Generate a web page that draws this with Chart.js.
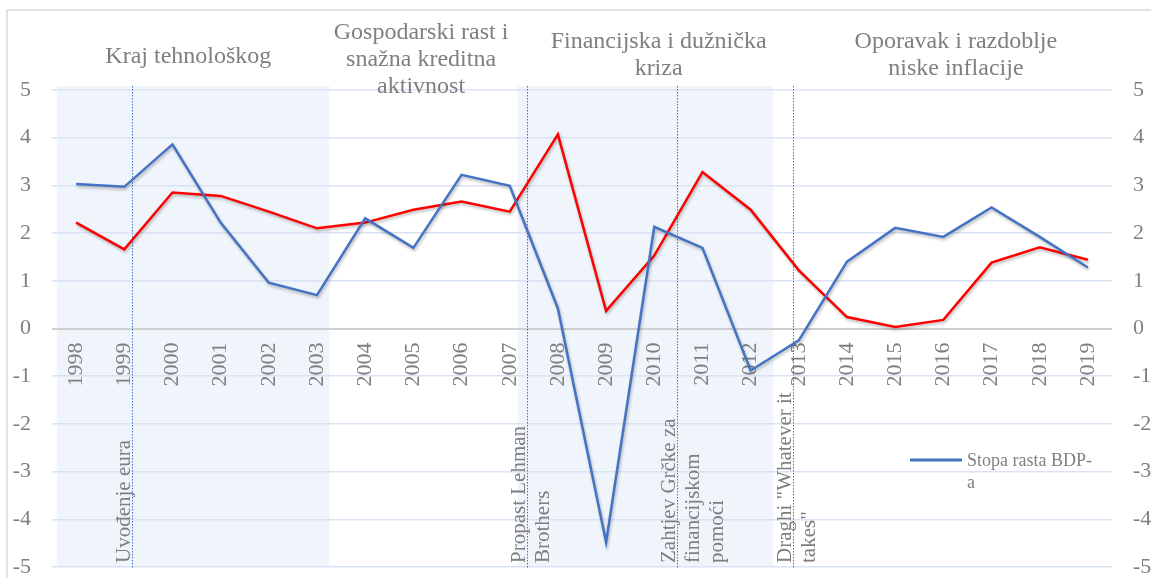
<!DOCTYPE html>
<html>
<head>
<meta charset="utf-8">
<script src="https://cdn.jsdelivr.net/npm/chart.js@4.4.1/dist/chart.umd.min.js"></script>
<style>
  html, body { margin: 0; padding: 0; background: #fff; }
  #wrap { width: 1151px; height: 578px; position: relative; }
</style>
</head>
<body>
<div id="wrap"><canvas id="chart" width="1151" height="578"></canvas></div>
<script>
// data
var years = ['1998', '1999', '2000', '2001', '2002', '2003', '2004', '2005', '2006', '2007', '2008',
  '2009', '2010', '2011', '2012', '2013', '2014', '2015', '2016', '2017', '2018', '2019'];
var gdpGrowth = [3.03, 2.97, 3.86, 2.22, 0.96, 0.70, 2.31, 1.69, 3.22, 2.99, 0.42,
  -4.48, 2.13, 1.69, -0.88, -0.25, 1.40, 2.11, 1.92, 2.54, 1.92, 1.28];
var inflation = [2.22, 1.66, 2.85, 2.78, 2.45, 2.10, 2.22, 2.49, 2.66, 2.45, 4.07,
  0.37, 1.53, 3.28, 2.49, 1.22, 0.24, 0.03, 0.18, 1.38, 1.70, 1.44];
var yTickMin = -5;
var yTickMax = 5;

// shaded periods, in category units (index along the x axis)
var periodBands = [[-0.4, 5.26], [9.17, 14.47]];
var periodTitles = [
  ['Kraj tehnološkog'],
  ['Gospodarski rast i', 'snažna kreditna', 'aktivnost'],
  ['Financijska i dužnička', 'kriza'],
  ['Oporavak i razdoblje', 'niske inflacije']
];
var periodTitleAt = [2.33, 7.16, 12.09, 18.26];

// events, dotted lines
var eventAt = [1.15, 9.35, 12.48, 14.88];
var eventLabels = [
  ['Uvođenje eura'],
  ['Propast Lehman', 'Brothers'],
  ['Zahtjev Grčke za', 'financijskom', 'pomoći'],
  ['Draghi "Whatever it', 'takes"']
];

var legendLines = ['Stopa rasta BDP-', 'a'];

var SERIF = '"Liberation Serif", "Times New Roman", serif';
var GREY = '#7f7f7f';
var BLUE = '#4472C4';
var RED = '#FF0000';

function noPad(s) { s.paddingTop = 0; s.paddingBottom = 0; s.paddingLeft = 0; s.paddingRight = 0; }

var decor = {
  id: 'decor',
  beforeDraw: function (chart) {
    var ctx = chart.ctx, a = chart.chartArea, x = chart.scales.x;
    ctx.save();
    // outer frame
    ctx.strokeStyle = '#d9d9d9';
    ctx.lineWidth = 1.5;
    ctx.beginPath();
    ctx.moveTo(7, chart.height);
    ctx.lineTo(7, 10);
    ctx.lineTo(chart.width, 10);
    ctx.stroke();
    // shaded periods
    ctx.fillStyle = '#f0f4fb';
    periodBands.forEach(function (b) {
      var x0 = x.getPixelForValue(b[0]), x1 = x.getPixelForValue(b[1]);
      ctx.fillRect(x0, a.top - 4, x1 - x0, a.bottom - a.top + 4);
    });
    ctx.restore();
  },
  beforeDatasetsDraw: function (chart) {
    var ctx = chart.ctx, a = chart.chartArea, x = chart.scales.x;
    ctx.save();
    eventAt.forEach(function (v, i) {
      var px = Math.round(x.getPixelForValue(v)) + 0.5;
      ctx.strokeStyle = BLUE;
      ctx.lineWidth = 1;
      ctx.setLineDash([1.5, 1.5]);
      ctx.beginPath();
      ctx.moveTo(px, a.top - 4);
      ctx.lineTo(px, a.bottom + 1);
      ctx.stroke();
      ctx.setLineDash([]);
      // rotated label
      ctx.save();
      ctx.translate(px - 3, a.bottom - 4);
      ctx.rotate(-Math.PI / 2);
      ctx.fillStyle = GREY;
      ctx.font = '21px ' + SERIF;
      ctx.textAlign = 'left';
      ctx.textBaseline = 'alphabetic';
      eventLabels[i].forEach(function (line, j) {
        ctx.fillText(line, 0, j * 24);
      });
      ctx.restore();
    });
    ctx.restore();
  },
  beforeDatasetDraw: function (chart) {
    var ctx = chart.ctx;
    ctx.save();
    ctx.shadowColor = 'rgba(0,0,0,0.28)';
    ctx.shadowBlur = 3;
    ctx.shadowOffsetX = 1;
    ctx.shadowOffsetY = 2;
  },
  afterDatasetDraw: function (chart) {
    chart.ctx.restore();
  },
  afterDraw: function (chart) {
    var ctx = chart.ctx, x = chart.scales.x;
    ctx.save();
    // period titles
    ctx.fillStyle = GREY;
    ctx.font = '24px ' + SERIF;
    ctx.textAlign = 'center';
    ctx.textBaseline = 'middle';
    var firstLineY = [57, 33, 42, 42];
    periodTitles.forEach(function (lines, i) {
      var px = x.getPixelForValue(periodTitleAt[i]);
      lines.forEach(function (line, j) {
        ctx.fillText(line, px, firstLineY[i] + j * 27);
      });
    });
    // legend (only the GDP series is shown)
    var ds = chart.data.datasets[0];
    ctx.strokeStyle = ds.borderColor;
    ctx.lineWidth = 3;
    ctx.beginPath();
    ctx.moveTo(910, 460);
    ctx.lineTo(962, 460);
    ctx.stroke();
    ctx.font = '18px ' + SERIF;
    ctx.textAlign = 'left';
    ctx.textBaseline = 'middle';
    legendLines.forEach(function (line, j) {
      ctx.fillText(line, 967, 461 + j * 22);
    });
    ctx.restore();
  }
};

new Chart(document.getElementById('chart'), {
  type: 'line',
  data: {
    labels: years,
    datasets: [
      { label: 'Stopa rasta BDP-a', data: gdpGrowth, borderColor: BLUE, borderWidth: 2.5,
        pointRadius: 0, tension: 0, fill: false, yAxisID: 'y' },
      { label: 'Stopa inflacije', data: inflation, borderColor: RED, borderWidth: 2.5,
        pointRadius: 0, tension: 0, fill: false, yAxisID: 'y' }
    ]
  },
  options: {
    responsive: false,
    animation: false,
    layout: { padding: { top: 90, bottom: 11, left: 0, right: 0 } },
    plugins: { legend: { display: false }, tooltip: { enabled: false } },
    scales: {
      x: {
        type: 'category',
        offset: true,
        position: { y: 0 },
        afterFit: function (s) { s.height = 0; noPad(s); },
        grid: { display: false, drawTicks: false },
        border: { display: false },
        ticks: {
          autoSkip: false, minRotation: 90, maxRotation: 90, padding: 14,
          color: GREY, font: { family: SERIF, size: 22 }
        }
      },
      y: {
        position: 'left',
        min: yTickMin, max: yTickMax,
        afterFit: function (s) { s.width = 52; noPad(s); },
        grid: {
          drawTicks: false,
          color: function (c) { return c.tick && c.tick.value === 0 ? '#cfcfcf' : '#dae3f3'; },
          lineWidth: function (c) { return c.tick && c.tick.value === 0 ? 2 : 1.5; }
        },
        border: { display: false },
        ticks: { stepSize: 1, padding: 21, color: GREY, font: { family: SERIF, size: 22 } }
      },
      y1: {
        position: 'right',
        min: yTickMin, max: yTickMax,
        afterFit: function (s) { s.width = 39; noPad(s); },
        grid: { display: false, drawTicks: false },
        border: { display: false },
        ticks: { stepSize: 1, padding: 21, color: GREY, font: { family: SERIF, size: 22 } }
      }
    }
  },
  plugins: [decor]
});
</script>
</body>
</html>
